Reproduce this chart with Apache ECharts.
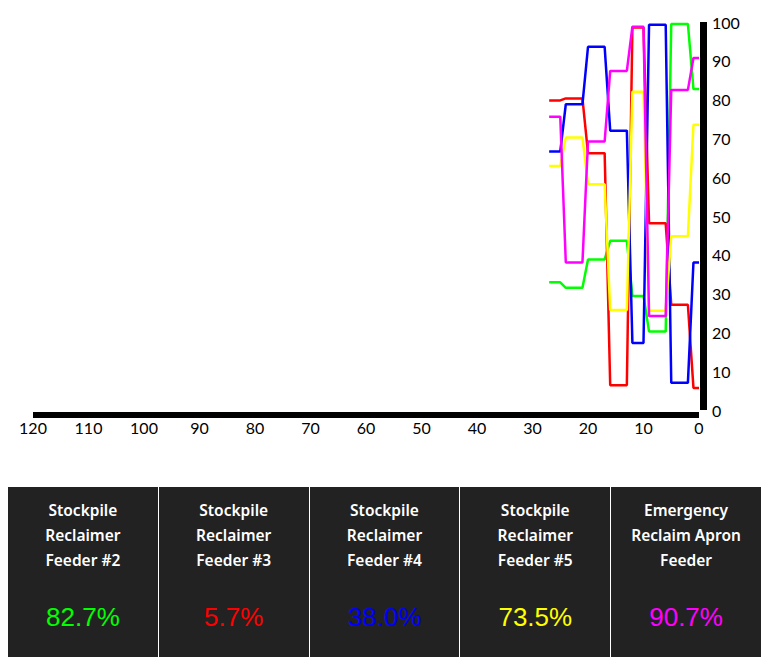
<!DOCTYPE html>
<html>
<head>
<meta charset="utf-8">
<script src="https://cdn.jsdelivr.net/npm/echarts@6/dist/echarts.min.js"></script>
<style>
html, body { margin: 0; padding: 0; background: #fff; }
#chart { position: absolute; left: 0; top: 0; width: 766px; height: 666px; }
.panel {
    position: absolute; left: 8px; top: 487px; width: 753px; height: 170px;
    display: flex; gap: 1px; background: #fff;
}
.cell {
    flex: 1; background: #222; color: #fff; text-align: center;
    padding-top: 11px; box-sizing: border-box;
}
.name {
    font-family: "Noto Sans", sans-serif; font-weight: 600; font-size: 15.5px;
    line-height: 25px; width: 120px; margin: 0 auto;
}
.val {
    font-family: "Liberation Sans", Arial, sans-serif; font-size: 26px;
    line-height: 30px; margin-top: 29px;
}
</style>
</head>
<body>
<div id="chart"></div>
<div class="panel" id="panel"></div>
<script>
// seconds ago (x axis)
var ages = [27, 26, 25, 24, 23, 22, 21, 20, 19, 18, 17, 16, 15, 14, 13, 12, 11, 10, 9, 8, 7, 6, 5, 4, 3, 2, 1, 0];

var feeder2 = [32.9, 32.9, 32.9, 31.5, 31.5, 31.5, 31.5, 38.8, 38.8, 38.8, 38.8, 43.6, 43.6, 43.6, 43.6, 29.4, 29.4, 29.4, 20.2, 20.2, 20.2, 20.2, 99.5, 99.5, 99.5, 99.5, 82.7, 82.7];
var feeder3 = [79.8, 79.8, 79.8, 80.3, 80.3, 80.3, 80.3, 66.2, 66.2, 66.2, 66.2, 6.4, 6.4, 6.4, 6.4, 98.6, 98.6, 98.6, 48.1, 48.1, 48.1, 48.1, 27.1, 27.1, 27.1, 27.1, 5.7, 5.7];
var feeder4 = [66.6, 66.6, 66.6, 78.8, 78.8, 78.8, 78.8, 93.6, 93.6, 93.6, 93.6, 72.0, 72.0, 72.0, 72.0, 17.3, 17.3, 17.3, 99.3, 99.3, 99.3, 99.3, 7.0, 7.0, 7.0, 7.0, 38.0, 38.0];
var feeder5 = [62.9, 62.9, 62.9, 70.2, 70.2, 70.2, 70.2, 58.2, 58.2, 58.2, 58.2, 25.8, 25.8, 25.8, 25.8, 82.0, 82.0, 82.0, 25.6, 25.6, 25.6, 25.6, 44.8, 44.8, 44.8, 44.8, 73.5, 73.5];
var apron = [75.6, 75.6, 75.6, 38.0, 38.0, 38.0, 38.0, 69.2, 69.2, 69.2, 69.2, 87.4, 87.4, 87.4, 87.4, 98.8, 98.8, 98.8, 24.2, 24.2, 24.2, 24.2, 82.5, 82.5, 82.5, 82.5, 90.7, 90.7];

var names = ['Stockpile Reclaimer Feeder #2', 'Stockpile Reclaimer Feeder #3', 'Stockpile Reclaimer Feeder #4', 'Stockpile Reclaimer Feeder #5', 'Emergency Reclaim Apron Feeder'];
var colors = ['#00ff00', '#ff0000', '#0000ff', '#ffff00', '#ff00ff'];
var values = [feeder2, feeder3, feeder4, feeder5, apron];

function pairs(arr) {
    return ages.map(function (a, i) { return [a, arr[i]]; });
}

var chart = echarts.init(document.getElementById('chart'), null, { renderer: 'svg' });
chart.setOption({
    animation: false,
    grid: { left: 33, right: 67, top: 22, bottom: 256 },
    xAxis: {
        type: 'value', min: 0, max: 120, interval: 10, inverse: true,
        offset: 4.5,
        axisLine: { show: true, onZero: false, lineStyle: { color: '#000', width: 6, cap: 'butt' } },
        axisTick: { show: false },
        splitLine: { show: false },
        axisLabel: { color: '#000', fontSize: 16, fontFamily: 'Lato', margin: 5 }
    },
    yAxis: {
        type: 'value', min: 0, max: 100, interval: 10, position: 'right',
        offset: 4,
        axisLine: { show: true, onZero: false, lineStyle: { color: '#000', width: 7, cap: 'butt' } },
        axisTick: { show: false },
        splitLine: { show: false },
        axisLabel: { color: '#000', fontSize: 16, fontFamily: 'Lato', margin: 9 }
    },
    series: values.map(function (v, i) {
        return {
            name: names[i], type: 'line', data: pairs(v),
            showSymbol: false, lineStyle: { color: colors[i], width: 2.5 }
        };
    })
});

// bottom panel: current (age 0) value of each feeder
var panel = document.getElementById('panel');
values.forEach(function (v, i) {
    var cell = document.createElement('div');
    cell.className = 'cell';
    cell.innerHTML = '<div class="name">' + names[i] + '</div>' +
        '<div class="val" style="color:' + colors[i] + '">' + v[v.length - 1].toFixed(1) + '%</div>';
    panel.appendChild(cell);
});
</script>
</body>
</html>
